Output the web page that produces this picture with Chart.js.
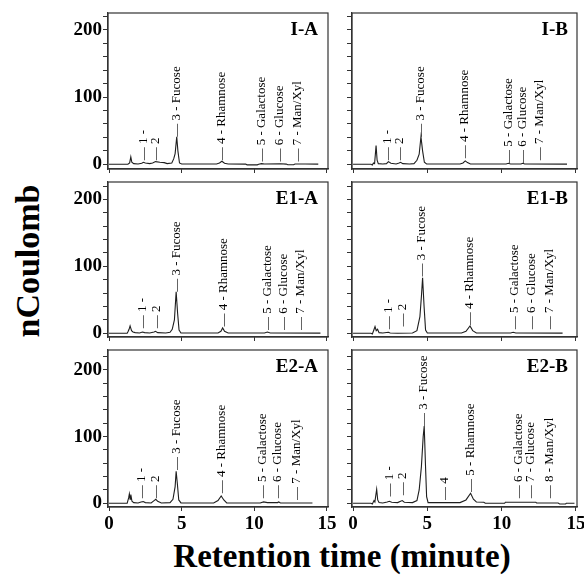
<!DOCTYPE html>
<html lang="en">
<head>
    <meta charset="UTF-8">
    <title>Monosaccharide chromatograms</title>
    <script src="https://cdn.jsdelivr.net/npm/chart.js"></script>
    <style>
        * {
            margin: 0;
            padding: 0;
            box-sizing: border-box;
        }
        body {
            background: #fff;
            width: 584px;
            height: 575px;
            position: relative;
            overflow: hidden;
            font-family: 'Liberation Serif', serif;
        }
        .panel {
            position: absolute;
        }
        .ytitle {
            position: absolute;
            left: 28px;
            top: 261px;
            transform: translate(-50%, -50%) rotate(-90deg);
            font-weight: bold;
            font-size: 34px;
            line-height: 1;
            white-space: nowrap;
        }
        .xtitle {
            position: absolute;
            left: 342px;
            top: 556px;
            transform: translate(-50%, -50%);
            font-weight: bold;
            font-size: 33px;
            line-height: 1;
            white-space: nowrap;
        }
    </style>
</head>
<body>
    <div class="ytitle">nCoulomb</div>
    <div class="xtitle">Retention time (minute)</div>

    <script>
        // tick labels
        const xTickLabels = [0, 5, 10, 15];
        const yTickLabels = [0, 100, 200];

        // peak names
        const peakNames = ['1 -', '2', '3 - Fucose', '4 - Rhamnose', '5 - Galactose', '6 - Glucose', '7 - Man/Xyl'];
        const peakNamesE2B = ['1 -', '2', '3 - Fucose', '4', '5 - Rhamnose', '6 - Galactose', '7 - Glucose', '8 - Man/Xyl'];

        // I-A
        const iaTime = [0, 1.3, 1.42, 1.5, 1.57, 1.7, 2.0, 2.25, 2.37, 2.5, 2.8, 3.0, 3.2, 3.5, 3.8, 4.0, 4.32, 4.45, 4.55, 4.66, 4.74, 4.85, 5.0, 7.4, 7.6, 7.77, 7.95, 8.2, 9.4, 9.5, 10.2, 10.3, 10.5, 10.7, 11.8, 12.2, 12.3, 12.7, 12.8, 13.5, 14.4];
        const iaSignal = [0, 0, 2, 11, 3, 1, 0.5, 1.5, 3, 2, 1, 2, 4, 3, 2.5, 1, 2, 8, 16, 41, 20, 2, 0.5, 0.5, 2, 4.5, 1.5, 0.5, 0.3, -0.8, -0.8, 0.2, 1, 0.5, 0.8, 0.3, -0.6, -0.6, 0.5, 0.5, 0.3];
        const iaPeakTime = [2.37, 3.2, 4.66, 7.77, 10.53, 11.72, 13.0];
        const iaPeakLevel = [6, 6, 41, 6, 4, 4, 4];

        // I-B
        const ibTime = [0, 1.2, 1.3, 1.37, 1.45, 1.55, 1.62, 1.7, 2.0, 2.25, 2.38, 2.55, 2.9, 3.1, 3.2, 3.35, 3.8, 4.1, 4.3, 4.45, 4.57, 4.68, 4.8, 4.95, 7.2, 7.4, 7.55, 7.7, 7.9, 10.3, 10.45, 10.6, 11.3, 11.42, 11.55, 14.4];
        const ibSignal = [0, 0, -1, 2, 1, 28, 6, 1, 0.5, 1, 4, 1.5, 0.5, 2, 3, 1, 0.5, 1, 6, 15, 41, 20, 3, 0.5, 0.5, 2, 5, 2.5, 0.5, 0.5, 1.5, 0.5, 0.5, 1.5, 0.5, 0.3];
        const ibPeakTime = [2.33, 3.16, 4.57, 7.53, 10.45, 11.39, 12.58];
        const ibPeakLevel = [6, 6, 41, 9, 2, 2, 6];

        // E1-A
        const e1aTime = [0, 1.25, 1.32, 1.38, 1.45, 1.55, 1.65, 1.8, 2.1, 2.3, 2.45, 2.8, 3.1, 3.2, 3.35, 3.9, 4.2, 4.35, 4.5, 4.62, 4.72, 4.82, 4.95, 7.5, 7.7, 7.82, 7.95, 8.2, 10.7, 10.9, 11.1, 14.55];
        const e1aSignal = [0, 0, 3, 6, 11, 4, 2, 1, 0.5, 2, 1, 0.5, 2, 3, 1, 0.5, 1.5, 6, 20, 62, 30, 5, 0.5, 0.5, 3, 8, 3, 0.5, 0.5, 2, 0.5, 0.3];
        const e1aPeakTime = [2.32, 3.24, 4.67, 7.88, 10.92, 12.0, 13.2];
        const e1aPeakLevel = [7.5, 7.5, 62, 10, 5, 5, 5];

        // E1-B
        const e1bTime = [0, 1.2, 1.3, 1.4, 1.48, 1.56, 1.65, 1.75, 2.0, 2.38, 2.5, 3.0, 4.0, 4.3, 4.5, 4.6, 4.68, 4.78, 4.88, 5.0, 7.3, 7.6, 7.87, 8.05, 8.3, 10.6, 10.78, 10.95, 14.1];
        const e1bSignal = [0, 0, -1, 5, 10, 4, 6, 1, 0.5, 1.5, 0.5, 0, 0.5, 4, 25, 55, 83, 40, 5, 0.5, 0.5, 3, 11, 4, 0.5, 0.5, 1.5, 0.5, 0.3];
        const e1bPeakTime = [2.38, 3.34, 4.62, 7.82, 10.9, 12.0, 13.25];
        const e1bPeakLevel = [6, 10, 85, 12, 6, 6, 6];

        // E2-A
        const e2aTime = [0, 1.25, 1.35, 1.4, 1.45, 1.5, 1.58, 1.7, 2.0, 2.2, 2.35, 2.5, 2.9, 3.1, 3.22, 3.35, 3.6, 4.2, 4.4, 4.55, 4.62, 4.7, 4.8, 4.95, 7.2, 7.5, 7.72, 7.9, 8.1, 10.4, 10.64, 10.9, 11.6, 11.68, 11.8, 12.9, 14.0];
        const e2aSignal = [0, 0, 8, 14, 6, 13, 3, 1, 0.5, 2, 2.5, 1, 0.5, 4, 6, 3, 0.5, 1, 6, 25, 48, 30, 5, 0.5, 0.5, 4, 11, 5, 0.5, 0.5, 2, 1, 1, 2, 0.5, 0.5, 0.3];
        const e2aPeakTime = [2.25, 3.22, 4.62, 7.75, 10.57, 11.61, 12.88];
        const e2aPeakLevel = [7.5, 7.5, 50, 15, 7.5, 7.5, 5];

        // E2-B
        const e2bTime = [0, 1.2, 1.3, 1.41, 1.47, 1.59, 1.66, 1.75, 2.0, 2.3, 2.44, 2.6, 3.0, 3.2, 3.31, 3.45, 4.0, 4.3, 4.45, 4.6, 4.72, 4.79, 4.87, 4.95, 5.05, 7.2, 7.6, 7.91, 8.1, 8.3, 8.8, 8.9, 10.2, 10.25, 12.3, 12.35, 13.8, 13.9, 14.3, 14.35, 14.9];
        const e2bSignal = [0, 0, -1, 4, 2, 21, 5, 1, 0.5, 2, 3, 1.5, 1, 3, 4, 1.5, 1, 4, 20, 55, 100, 116, 60, 10, 1, 1, 5, 15, 6, 2, 1.5, 0, 0, 1.5, 1.5, 0.5, 0.5, -1, -1, 0, 0];
        const e2bPeakTime = [2.44, 3.32, 4.77, 6.19, 7.91, 11.12, 11.95, 13.23];
        const e2bPeakLevel = [10, 12, 116, 5, 17, 7.5, 7.5, 7.5];

        // page layout of the plot boxes
        const rows = [
            { top: 13, bottom: 169, min: -7, max: 225 },
            { top: 182, bottom: 337, min: -5.5, max: 226 },
            { top: 350, bottom: 507, min: -5.6, max: 230 }
        ];
        const cols = [
            { left: 108, right: 328, nameInset: 10 },
            { left: 352, right: 577, nameInset: 9 }
        ];

        const panels = [
            { name: 'I-A', row: 0, col: 0, time: iaTime, signal: iaSignal, peakTime: iaPeakTime, peakLevel: iaPeakLevel, names: peakNames },
            { name: 'I-B', row: 0, col: 1, time: ibTime, signal: ibSignal, peakTime: ibPeakTime, peakLevel: ibPeakLevel, names: peakNames },
            { name: 'E1-A', row: 1, col: 0, time: e1aTime, signal: e1aSignal, peakTime: e1aPeakTime, peakLevel: e1aPeakLevel, names: peakNames },
            { name: 'E1-B', row: 1, col: 1, time: e1bTime, signal: e1bSignal, peakTime: e1bPeakTime, peakLevel: e1bPeakLevel, names: peakNames },
            { name: 'E2-A', row: 2, col: 0, time: e2aTime, signal: e2aSignal, peakTime: e2aPeakTime, peakLevel: e2aPeakLevel, names: peakNames },
            { name: 'E2-B', row: 2, col: 1, time: e2bTime, signal: e2bSignal, peakTime: e2bPeakTime, peakLevel: e2bPeakLevel, names: peakNamesE2B }
        ];

        const serif = '"Liberation Serif", "Times New Roman", serif';

        // frame, panel name and rotated peak labels
        const panelDecor = {
            id: 'panelDecor',
            afterDraw(chart, args, opts) {
                const { ctx, chartArea: a, scales: { x, y } } = chart;
                ctx.save();
                ctx.strokeStyle = '#333';
                ctx.lineWidth = 1.2;
                ctx.strokeRect(a.left, a.top, a.right - a.left, a.bottom - a.top);

                ctx.fillStyle = '#000';
                ctx.font = 'bold 19px ' + serif;
                ctx.textAlign = 'right';
                ctx.textBaseline = 'alphabetic';
                ctx.fillText(opts.name, a.right - opts.nameInset, a.top + 22);

                ctx.font = '13px ' + serif;
                ctx.fillStyle = '#000';
                ctx.textAlign = 'left';
                ctx.textBaseline = 'middle';
                opts.peakTime.forEach((t, i) => {
                    ctx.save();
                    ctx.translate(x.getPixelForValue(t), y.getPixelForValue(opts.peakLevel[i]));
                    ctx.rotate(-Math.PI / 2);
                    ctx.fillText('\u2014 ' + opts.names[i], 0, 0);
                    ctx.restore();
                });
                ctx.restore();
            }
        };

        const tickFont = { family: serif, size: 19, weight: 'bold' };

        function drawPanels() {
            panels.forEach(p => {
                const r = rows[p.row];
                const c = cols[p.col];
                const box = document.createElement('div');
                box.className = 'panel';
                box.style.left = (c.left - 48) + 'px';
                box.style.top = (r.top - 14) + 'px';
                box.style.width = (c.right - c.left + 62) + 'px';
                box.style.height = (r.bottom - r.top + 44) + 'px';
                const canvas = document.createElement('canvas');
                box.appendChild(canvas);
                document.body.appendChild(box);

                new Chart(canvas, {
                    type: 'line',
                    data: {
                        datasets: [{
                            data: p.time.map((t, k) => ({ x: t, y: p.signal[k] })),
                            borderColor: '#1e1e1e',
                            borderWidth: 1.1,
                            pointRadius: 0,
                            tension: 0,
                            fill: false
                        }]
                    },
                    options: {
                        responsive: true,
                        maintainAspectRatio: false,
                        animation: false,
                        events: [],
                        layout: { padding: { top: 14, right: 14, bottom: 0, left: 0 } },
                        plugins: {
                            legend: { display: false },
                            tooltip: { enabled: false },
                            panelDecor: {
                                name: p.name,
                                nameInset: c.nameInset,
                                peakTime: p.peakTime,
                                peakLevel: p.peakLevel,
                                names: p.names
                            }
                        },
                        scales: {
                            x: {
                                type: 'linear',
                                min: -0.07,
                                max: 15.07,
                                afterFit: s => { s.height = 30; },
                                ticks: {
                                    stepSize: 5,
                                    includeBounds: false,
                                    autoSkip: false,
                                    maxRotation: 0,
                                    display: p.row === 2,
                                    padding: 2,
                                    color: '#000',
                                    font: tickFont,
                                    callback: v => xTickLabels.includes(v) ? String(v) : ''
                                },
                                grid: { drawOnChartArea: false, tickLength: 4, color: '#333' },
                                border: { color: '#333', width: 1.2 }
                            },
                            y: {
                                type: 'linear',
                                min: r.min,
                                max: r.max,
                                afterFit: s => { s.width = 48; },
                                ticks: {
                                    stepSize: 20,
                                    includeBounds: false,
                                    autoSkip: false,
                                    display: p.col === 0,
                                    padding: 1,
                                    color: '#000',
                                    font: tickFont,
                                    callback: v => yTickLabels.includes(v) ? String(v) : ''
                                },
                                grid: { drawOnChartArea: false, tickLength: 5, color: '#333' },
                                border: { color: '#333', width: 1.2 }
                            }
                        }
                    },
                    plugins: [panelDecor]
                });
            });
        }

        // make sure the serif face is ready before the canvases draw text
        Promise.all([
            document.fonts.load('13px "Liberation Serif"'),
            document.fonts.load('bold 19px "Liberation Serif"')
        ]).then(drawPanels, drawPanels);
    </script>
</body>
</html>
